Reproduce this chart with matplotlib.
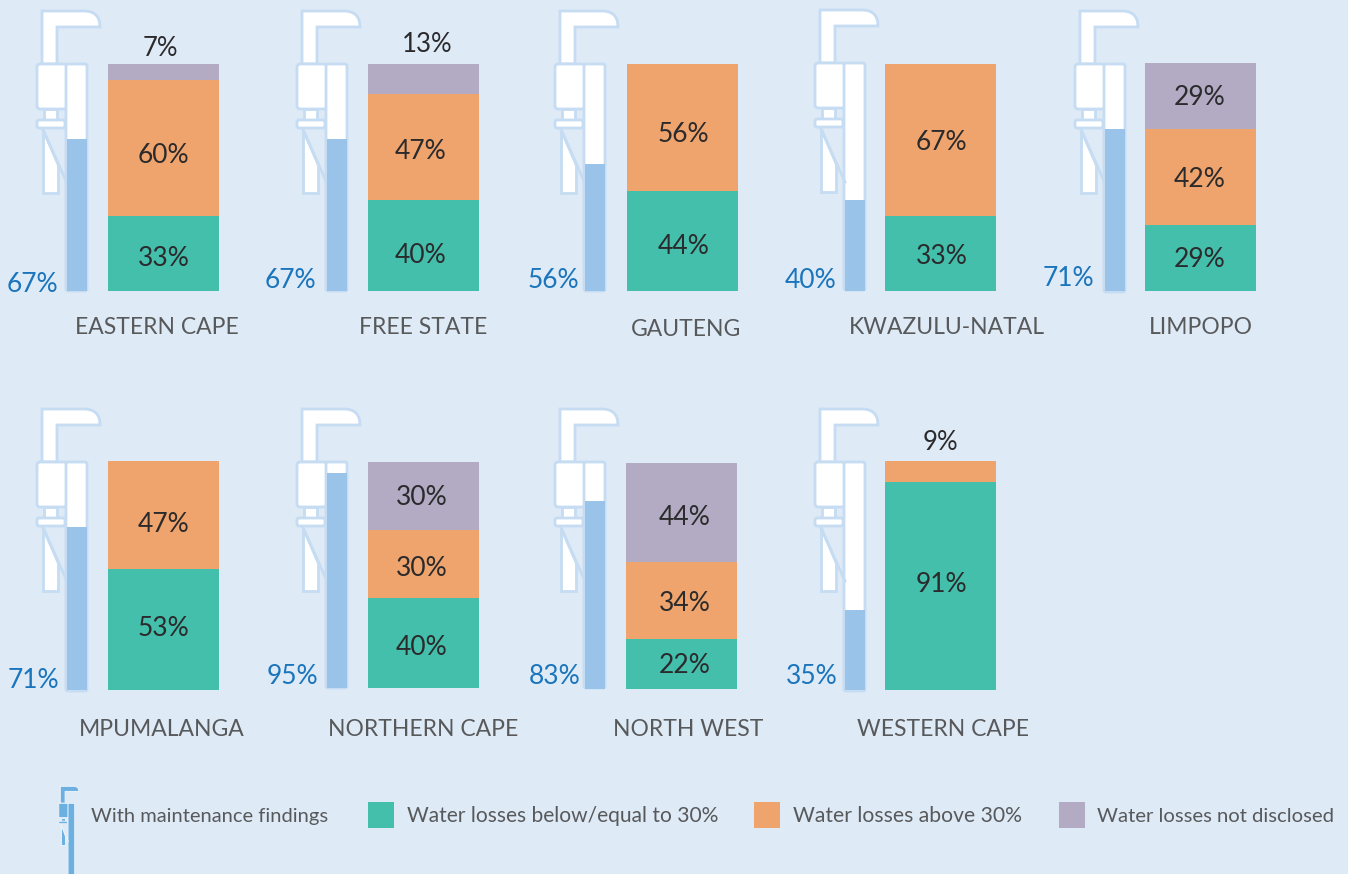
import matplotlib
matplotlib.use('Agg')
import matplotlib.pyplot as plt
from matplotlib.patches import FancyBboxPatch, PathPatch, Polygon, Rectangle
from matplotlib.path import Path

plt.rcParams['font.family'] = ['Lato', 'DejaVu Sans']

# data
provinces = ['EASTERN CAPE', 'FREE STATE', 'GAUTENG', 'KWAZULU-NATAL', 'LIMPOPO',
             'MPUMALANGA', 'NORTHERN CAPE', 'NORTH WEST', 'WESTERN CAPE']
maintenance = [67, 67, 56, 40, 71, 71, 95, 83, 35]
below_30 = [33, 40, 44, 33, 29, 53, 40, 22, 91]
above_30 = [60, 47, 56, 67, 42, 47, 30, 34, 9]
not_disclosed = [7, 13, 0, 0, 29, 0, 30, 44, 0]
legend_labels = ['With maintenance findings', 'Water losses below/equal to 30%',
                 'Water losses above 30%', 'Water losses not disclosed']

# layout in pixels of the 1348x874 picture
W, H = 1348, 874
bar_left = [108, 368, 627, 885, 1145, 108, 368, 626, 885]
bar_top = [64, 64, 64, 64, 63, 461, 462, 463, 461]
bar_bottom = [291, 291, 291, 291, 291, 690, 688, 689, 690]
bar_width = 111
tube_left = [66, 326, 584, 844, 1104, 66, 326, 584, 844]
icon_top = [10, 10, 10, 9, 10, 408, 408, 408, 408]
title_x = [157, 423, 686, 947, 1201, 162, 423, 688, 943]
title_y = [328, 328, 329, 328, 328, 729, 729, 729, 729]
gauge_label_x = [32, 290, 553, 811, 1068, 33, 292, 555, 812]
gauge_label_y = [284, 280, 280, 280, 279, 681, 677, 677, 677]
# hand placed labels: shift in pixels from the segment middle
label_dx = [0, -3, 1, 1, -1, 0, -2, 3, 1]
dy_below = [4, 9, 4, 2, 0, -2, 4, 0, -2]
dy_above = [6, 4, 6, 1, 1, 9, 4, 2, 0]
dy_nd = [0, 0, 0, 0, 0, 0, 0, 4, 0]
top_label_x = [160, 427, 0, 0, 0, 0, 0, 0, 940]
top_label_y = [47, 43, 0, 0, 0, 0, 0, 0, 441]
legend_text_x = [91, 407, 793, 1097]
legend_swatch_x = [368, 754, 1059]
legend_size = [14.5, 15.1, 15.2, 14.6]

BG = '#deeaf6'
TEAL = '#43bfac'
ORANGE = '#eea46c'
PURPLE = '#b3abc3'
TUBE = '#99c3e8'
LINE = '#c5dcf2'
BLUE_TEXT = '#1a75bc'
DARK = '#2b2a2c'
GREY = '#58595b'
ICON = '#6cb0e2'

fig = plt.figure(figsize=(W / 100, H / 100), dpi=100, facecolor=BG)
bg = fig.add_axes([0, 0, 1, 1], zorder=0)
bg.set_xlim(0, W)
bg.set_ylim(H, 0)
bg.axis('off')


def wrench(ax, x0, y0, tube_h, s=1.0, face='white', edge=LINE, lw=2.0):
    # x0 = tube left, y0 = top of the handle
    def P(x, y):
        return (x0 + (x - 66) * s, y0 + (y - 10) * s)

    verts = [P(42, 64), P(42, 11), P(84, 11), P(100, 11), P(100, 27), P(100, 27),
             P(57, 27), P(57, 64), P(42, 64)]
    codes = [Path.MOVETO, Path.LINETO, Path.LINETO, Path.CURVE3, Path.CURVE3, Path.LINETO,
             Path.LINETO, Path.LINETO, Path.CLOSEPOLY]
    ax.add_patch(PathPatch(Path(verts, codes), fc=face, ec=edge, lw=lw))
    # lower jaw
    ax.add_patch(Polygon([P(43, 130), P(43, 193), P(58, 193), P(58, 165)], fc=face, ec=edge, lw=lw))
    ax.plot(*zip(P(43, 130), P(67, 183)), color=edge, lw=lw)
    # neck and collar
    ax.add_patch(Rectangle(P(44, 109), 13 * s, 12 * s, fc=face, ec=edge, lw=lw))
    x, y = P(37, 120)
    ax.add_patch(FancyBboxPatch((x, y), 28 * s, 8 * s, boxstyle=f'round,pad=0,rounding_size={2 * s}',
                                fc=face, ec=edge, lw=lw))
    x, y = P(37, 64)
    ax.add_patch(FancyBboxPatch((x, y), 30 * s, 45 * s, boxstyle=f'round,pad=0,rounding_size={3 * s}',
                                fc=face, ec=edge, lw=lw))
    # tube
    x, y = P(66, 64)
    ax.add_patch(FancyBboxPatch((x, y), 21 * s, tube_h * s, boxstyle=f'round,pad=0,rounding_size={2 * s}',
                                fc=face, ec=edge, lw=lw))


for i, name in enumerate(provinces):
    wrench(bg, tube_left[i], icon_top[i], bar_bottom[i] - bar_top[i])
    bg.text(title_x[i], title_y[i], name, ha='center', va='center', fontsize=16.5, color=GREY)
    bg.text(gauge_label_x[i], gauge_label_y[i], f'{maintenance[i]}%', ha='center', va='center',
            fontsize=19, color=BLUE_TEXT)

    # panel axes: x in pixels from the tube, y in percent
    left = tube_left[i] - 1
    right = bar_left[i] + bar_width
    ax = fig.add_axes([left / W, 1 - bar_bottom[i] / H, (right - left) / W,
                       (bar_bottom[i] - bar_top[i]) / H], zorder=2)
    ax.set_xlim(left, right)
    ax.set_ylim(0, 100)
    ax.axis('off')
    ax.patch.set_alpha(0)

    ax.bar(tube_left[i] + 11, maintenance[i], width=20, color=TUBE, linewidth=0)

    centre = bar_left[i] + bar_width / 2
    px = 100 / (bar_bottom[i] - bar_top[i])
    base = 0
    for val, col, dy in zip([below_30[i], above_30[i], not_disclosed[i]], [TEAL, ORANGE, PURPLE],
                            [dy_below[i], dy_above[i], dy_nd[i]]):
        if val == 0:
            continue
        ax.bar(centre, val, width=bar_width, bottom=base, color=col, linewidth=0)
        if val < 15 and base + val >= 100:
            # thin top segment, label sits above the bar
            bg.text(top_label_x[i], top_label_y[i] + 2, f'{val}%', ha='center', va='center',
                    fontsize=18.5, color=DARK)
        else:
            ax.text(centre + label_dx[i], base + val / 2 - 0.5 - dy * px, f'{val}%', ha='center',
                    va='center', fontsize=19, color=DARK)
        base += val

# legend
wrench(bg, 68, 786, 240, s=0.32, face=ICON, edge='#eaf2fa', lw=0.7)
for tx, lab, fs in zip(legend_text_x, legend_labels, legend_size):
    bg.text(tx, 822, lab, va='baseline', fontsize=fs, color=GREY)
for sx, col in zip(legend_swatch_x, [TEAL, ORANGE, PURPLE]):
    bg.add_patch(Rectangle((sx, 802), 26, 26, fc=col, ec='none'))

fig.savefig('out.png', dpi=100, facecolor=BG)
